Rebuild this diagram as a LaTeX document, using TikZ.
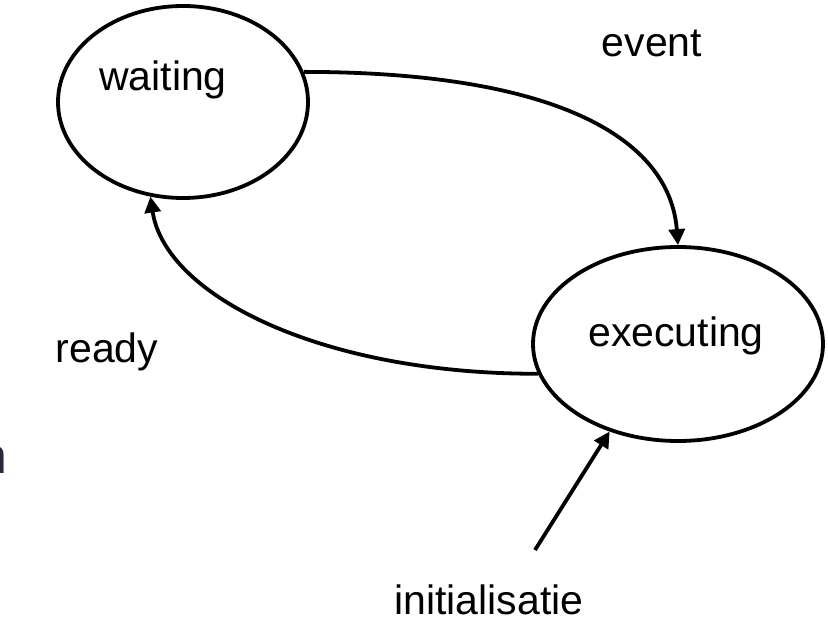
\documentclass[tikz,border=0pt]{standalone}
\usepackage{fontspec}
\setmainfont{Liberation Sans}
\usetikzlibrary{shapes.geometric,arrows.meta}
\definecolor{navy}{RGB}{40,42,60}
\tikzset{
  state/.style={draw, ellipse, line width=3.8pt, inner sep=0pt},
  lbl/.style={font=\fontsize{41}{49}\selectfont, anchor=base, inner sep=0pt},
  trans/.style={line width=3.8pt, -{Triangle[length=16pt,width=16pt]}}
}
\begin{document}
\begin{tikzpicture}[x=1pt,y=-1pt]
  \useasboundingbox (0,0) rectangle (828,620);

  % states
  \node[state, minimum width=250pt, minimum height=192pt] (waiting) at (183,102) {};
  \node[state, minimum width=290pt, minimum height=194pt] (executing) at (678,344) {};

  % texts
  \node[lbl] (twaiting) at (163,91) {waiting};
  \node[lbl] (texecuting) at (676,347) {executing};
  \node[lbl] (event) at (652,57) {event};
  \node[lbl] (ready) at (107,363) {ready};
  \node[lbl] (init) at (489,614) {initialisatie};
  \node[lbl, anchor=base east, text=navy, font=\fontsize{50}{60}\selectfont] (cut) at (8,473) {n};

  % transitions
  \coordinate (start) at (535,550);
  \draw[trans] (waiting.14) .. controls (560,72) and (670,140) .. (executing.north);
  \draw[trans] (executing.192) .. controls (320,374) and (165,295) .. (waiting.251);
  \draw[trans] (start) -- (executing.232);
\end{tikzpicture}
\end{document}
